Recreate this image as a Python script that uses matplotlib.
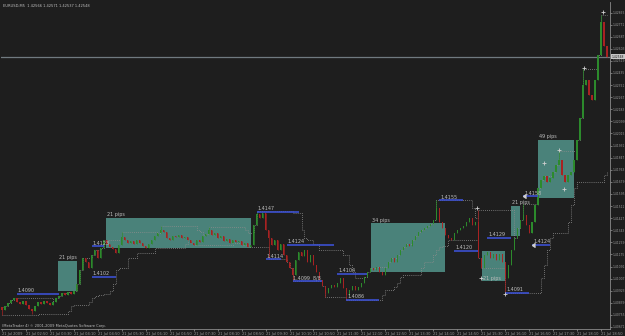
import numpy as np
import matplotlib.pyplot as plt
from matplotlib.patches import Rectangle

# header quote
symbol = "EURUSD,M5"
quote = ["1.42566", "1.42571", "1.42537", "1.42548"]

# M5 closes, pips above 1.4000, bar 0 = 21 Jul 02:10
close_pips = [
    78.9, 81.7, 83.8, 85.8, 87.2, 84.4, 83.1, 85.1, 82.4, 79.6,
    78.2, 81.7, 84.4, 83.1, 85.1, 83.8, 82.4, 84.4, 87.2, 88.6,
    90.7, 89.3, 91.4, 90.0, 92.1, 96.9, 106.7, 115.0, 112.2, 108.1,
    117.1, 120.6, 115.0, 121.9, 127.5, 124.7, 122.6, 121.2, 118.5, 124.0,
    129.6, 127.5, 125.4, 126.8, 124.7, 127.5, 125.4, 123.3, 121.9, 124.7,
    127.5, 130.3, 132.4, 134.4, 133.1, 128.9, 127.5, 130.3, 129.6, 131.0,
    128.9, 129.6, 127.5, 125.4, 124.0, 127.5, 126.1, 130.3, 131.7, 134.4,
    131.0, 132.4, 128.9, 130.3, 126.8, 128.2, 125.4, 127.5, 126.1, 126.8,
    124.0, 125.4, 122.6, 124.0, 137.9, 145.6, 142.8, 146.2, 134.4, 128.9,
    124.0, 127.5, 120.6, 124.7, 117.1, 112.2, 108.1, 103.2, 113.6, 119.2,
    116.4, 120.6, 112.2, 117.1, 110.1, 105.3, 99.7, 95.6, 90.7, 94.2,
    96.3, 94.9, 97.6, 101.1, 94.2, 89.3, 92.8, 95.6, 92.8, 94.9,
    97.6, 101.8, 105.3, 108.1, 106.7, 108.8, 105.3, 103.2, 108.1, 112.2,
    115.0, 112.2, 117.1, 120.6, 122.6, 124.7, 123.3, 127.5, 130.3, 133.1,
    134.4, 135.8, 137.2, 138.6, 141.4, 150.0, 140.0, 135.8, 131.0, 128.9,
    127.5, 132.4, 134.4, 135.8, 137.2, 140.0, 142.8, 137.9, 140.0, 115.0,
    108.1, 117.1, 119.2, 115.0, 117.8, 113.6, 117.8, 112.2, 101.1, 110.1,
    120.6, 128.9, 135.8, 141.4, 144.9, 137.9, 132.4, 140.0, 151.8, 163.6,
    169.2, 171.9, 167.8, 170.6, 174.7, 179.6, 183.1, 172.6, 167.8, 172.6,
    174.7, 183.1, 196.9, 212.2, 235.1, 238.6, 228.2, 224.7, 238.6, 256.0,
    278.9, 262.0, 254.8,
]
first_open_pips = 81.0

# wick extremes that stick out of the bodies (bar -> pips)
high_spikes = {40: 133.0, 53: 137.0, 69: 136.5, 85: 147.5, 145: 155.0,
               159: 148.3, 174: 152.5, 186: 189.5, 194: 246.0, 200: 284.0}
low_spikes = {0: 75.5, 10: 76.0, 89: 114.0, 97: 99.0, 108: 88.0,
              115: 86.0, 168: 91.0}

# x-axis labels every 8 bars (40 min)
time_labels = ["21 Jul 2009", "21 Jul 02:50", "21 Jul 03:30", "21 Jul 04:10",
               "21 Jul 04:50", "21 Jul 05:30", "21 Jul 06:10", "21 Jul 06:50",
               "21 Jul 07:30", "21 Jul 08:10", "21 Jul 08:50", "21 Jul 09:30",
               "21 Jul 10:10", "21 Jul 10:50", "21 Jul 11:30", "21 Jul 12:10",
               "21 Jul 12:50", "21 Jul 13:30", "21 Jul 14:10", "21 Jul 14:50",
               "21 Jul 15:30", "21 Jul 16:10", "21 Jul 16:50", "21 Jul 17:30",
               "21 Jul 18:10", "21 Jul 18:50"]

# right price scale
price_ticks = [1.42855, 1.42771, 1.42687, 1.42603, 1.42519, 1.42435, 1.42351,
               1.42267, 1.42183, 1.42099, 1.42015, 1.41931, 1.41847, 1.41763,
               1.41679, 1.41595, 1.41511, 1.41427, 1.41343, 1.41259, 1.41175,
               1.41091, 1.41007, 1.40923, 1.40839, 1.40755, 1.40671]

# blue level lines
level_prices = [1.4090, 1.4102, 1.4123, 1.4147, 1.4124, 1.4114, 1.4099, 1.4104,
                1.4086, 1.4155, 1.4120, 1.4129, 1.4091, 1.4158, 1.4124]
level_start = [5, 30, 30, 85, 95, 88, 97, 112, 115, 146, 151, 162, 168, 174, 177]
level_end = [19, 38, 34, 99, 111, 93, 107, 122, 126, 154, 159, 170, 176, 179, 183]
level_extra = {6: "  8/8"}

# teal range boxes
box_start = [18.7, 34.7, 123.3, 160.3, 170.0, 179.0]
box_end = [25.0, 83.3, 148.0, 168.0, 173.0, 191.0]
box_low = [1.4092, 1.4122, 1.4105, 1.4099, 1.4130, 1.4157]
box_high = [1.4113, 1.4143, 1.4139, 1.4120, 1.4151, 1.4197]
box_text = ["21 pips", "21 pips", "34 pips", "21 pips", "21 pips", "49 pips"]
box_text_inside = [False, False, False, True, False, False]

# fractal crosses
cross_x = [158.7, 160.0, 168.0, 181.0, 186.0, 187.7, 194.3, 200.7]
cross_p = [1.41497, 1.4101, 1.4090, 1.4181, 1.4190, 1.4163, 1.4247, 1.4286]

last_price = 1.42548

bg = '#1e1e1e'
txt = '#bdbdbd'
fs = 3.5
tfs = 2.6
yfs = 2.2

closes = 1.4 + np.array(close_pips) / 10000
n = len(closes)
idx = np.arange(n)
opens = np.r_[1.4 + first_open_pips / 10000, closes[:-1]]
highs = np.maximum(opens, closes)
lows = np.minimum(opens, closes)
for k, v in high_spikes.items():
    highs[k] = 1.4 + v / 10000
for k, v in low_spikes.items():
    lows[k] = 1.4 + v / 10000

fig = plt.figure(figsize=(6.25, 3.36), dpi=100, facecolor=bg)
ax = fig.add_axes([1 / 625, 7 / 336, 609 / 625, 327 / 336], facecolor=bg)

# boxes behind everything
for s, e, lo, hi, t, inside in zip(box_start, box_end, box_low, box_high,
                                   box_text, box_text_inside):
    ax.add_patch(Rectangle((s, lo), e - s, hi - lo, facecolor='#4a827a',
                           edgecolor='none', zorder=1))
    if inside:
        ax.text(s + 0.3, lo + 0.00003, t, color=txt, fontsize=fs,
                va='bottom', ha='left', zorder=6)
    else:
        ax.text(s + 0.2, hi + 0.00005, t, color=txt, fontsize=fs,
                va='bottom', ha='left', zorder=6)

# dotted channel
win = 12
upper = np.array([highs[max(0, i - win + 1):i + 1].max() for i in range(n)])
lower = np.array([lows[max(0, i - win + 1):i + 1].min() for i in range(n)])
ax.step(idx, upper, where='post', ls=(0, (1, 1.5)), color='#8c8c8c', lw=0.6, zorder=2)
ax.step(idx, lower, where='post', ls=(0, (1, 1.5)), color='#8c8c8c', lw=0.6, zorder=2)

# candles
up = closes >= opens
cols = np.where(up, '#2c8a2c', '#a82222')
ax.vlines(idx, lows, highs, colors=cols, lw=0.5, zorder=3)
body = np.where(np.abs(closes - opens) < 0.00004, 0.00004, closes - opens)
ax.bar(idx, body, bottom=opens, width=0.42, color=cols, edgecolor='none',
       zorder=4)

# levels
for j, (p, s, e) in enumerate(zip(level_prices, level_start, level_end)):
    ax.hlines(p, s, e, color='#3c50d0', lw=1.2, zorder=5)
    ax.text(s + 0.3, p + 0.00004, f"{p:.4f}" + level_extra.get(j, ""),
            color=txt, fontsize=fs, va='bottom', ha='left', zorder=6)

ax.plot(cross_x, cross_p, '+', color='#cfcfcf', ms=3, mew=0.6, zorder=6)
ax.plot([174, 177], [1.4158, 1.4124], marker=4, ls='none', color='#cfcfcf',
        ms=2.5, zorder=6)

# bid line
ax.axhline(last_price, color='#707a80', lw=0.9, zorder=2)
ax.text(1.003, last_price, f"{last_price:.5f}", transform=ax.get_yaxis_transform(),
        fontsize=yfs, color='#1e1e1e', va='center', ha='left',
        bbox=dict(boxstyle='square,pad=0.15', fc='#c8c8c8', ec='none'))

ax.text(0.003, 0.995, symbol + "  " + " ".join(quote), transform=ax.transAxes,
        color=txt, fontsize=tfs, va='top', ha='left')
ax.text(0.002, 0.004, "(MetaTrader 4) \u00a9 2001-2009 MetaQuotes Software Corp.",
        transform=ax.transAxes, color=txt, fontsize=tfs, va='bottom', ha='left')

ax.set_xlim(-0.33, 203)
ax.set_ylim(1.40657, 1.42928)

ax.set_xticks(np.arange(len(time_labels)) * 8)
ax.set_xticklabels(time_labels, ha='left')
ax.yaxis.tick_right()
ax.set_yticks(price_ticks)
ax.set_yticklabels([f"{v:.5f}" for v in price_ticks])
ax.tick_params(colors='#9a9a9a', labelsize=tfs, length=1.5, width=0.5, pad=0.8)
ax.tick_params(axis='y', labelsize=yfs, length=1.2, pad=0.5)
for sp in ['top', 'left']:
    ax.spines[sp].set_visible(False)
for sp in ['right', 'bottom']:
    ax.spines[sp].set_color('#8a8a8a')
    ax.spines[sp].set_linewidth(0.6)

fig.savefig('out.png', dpi=100, facecolor=bg)
